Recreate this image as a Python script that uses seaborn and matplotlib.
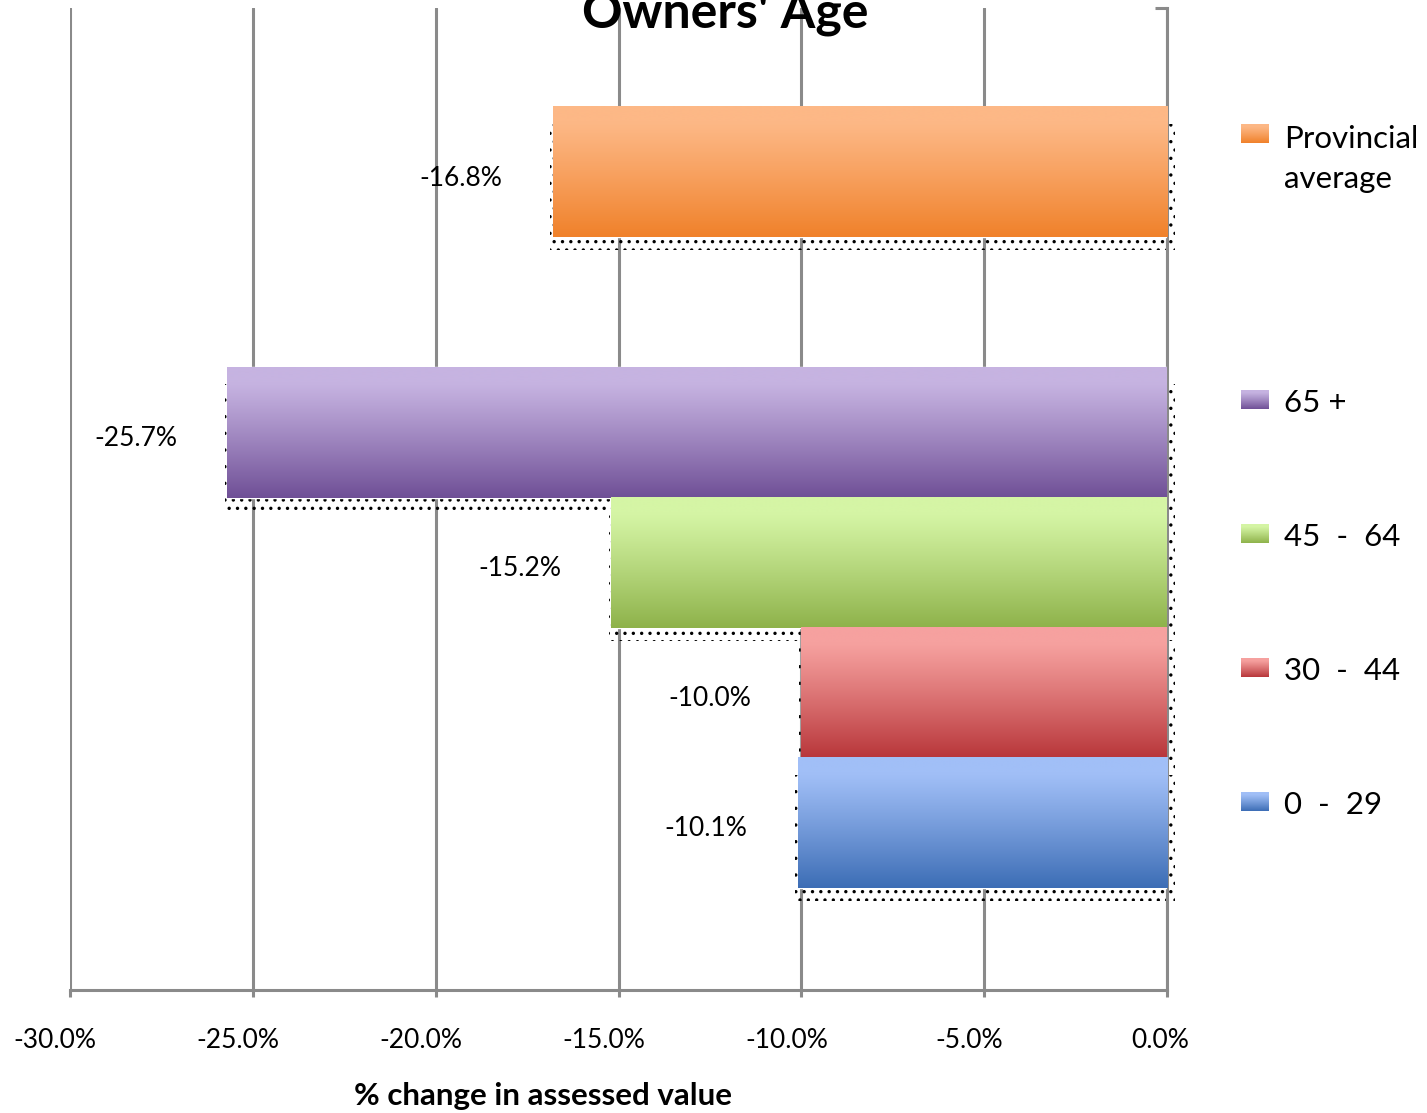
import numpy as np
import pandas as pd
import matplotlib
matplotlib.use("Agg")
import matplotlib.pyplot as plt
import seaborn as sns
from matplotlib.patches import Rectangle
from matplotlib.colors import to_rgb
from matplotlib.transforms import ScaledTranslation

# ---------------- data ----------------
groups = ["Provincial average", "65 +", "45 - 64", "30 - 44", "0 - 29"]
values = [-16.8, -25.7, -15.2, -10.0, -10.1]
legend_labels = ["Provincial\naverage", "65 +", "45  -  64", "30  -  44", "0  -  29"]
slot_order = ["Provincial average", " ", "65 +", "45 - 64", "30 - 44", "0 - 29"]
x_ticks = [-30, -25, -20, -15, -10, -5, 0]
x_tick_labels = ["-30.0%", "-25.0%", "-20.0%", "-15.0%", "-10.0%", "-5.0%", "0.0%"]
title = "Owners' Age"
x_label = "% change in assessed value"

top_colors = {"Provincial average": "#FDB886", "65 +": "#C6B3E1", "45 - 64": "#D5F5A5",
              "30 - 44": "#F6A19F", "0 - 29": "#A1BFF7"}
bottom_colors = {"Provincial average": "#F0812A", "65 +": "#6F4F96", "45 - 64": "#8EB24A",
                 "30 - 44": "#B8363A", "0 - 29": "#3C6DB5"}

GRAY = "#8a8a8a"

sns.set_theme(style="white")
plt.rcParams["font.family"] = ["Lato", "DejaVu Sans"]
plt.rcParams["hatch.linewidth"] = 1.2

W, H = 1427, 1113
fig = plt.figure(figsize=(W / 100, H / 100), dpi=100)
ax = fig.add_axes([70 / W, 1 - 990 / H, 1097 / W, 982 / H])

df = pd.DataFrame({"group": groups, "value": values})
sns.barplot(data=df, x="value", y="group", hue="group", order=slot_order,
            hue_order=groups, palette=top_colors, width=1.0, dodge=False,
            legend=False, saturation=1, ax=ax, errorbar=None)


def gradient(cat, n=256):
    t = np.linspace(0, 1, n)
    f = np.clip((t - 0.12) / 0.88, 0, 1) ** 1.1
    a = np.array(to_rgb(top_colors[cat]))
    b = np.array(to_rgb(bottom_colors[cat]))
    return a[None, :] + (b - a)[None, :] * f[:, None]


ylim = (6.283, -1.26)
for p in list(ax.patches):
    w = p.get_width()
    if w is None or np.isnan(w) or w == 0:
        continue
    x0 = p.get_x()
    xl, xr = min(x0, x0 + w), max(x0, x0 + w)
    y0, h = p.get_y(), p.get_height()
    yc = y0 + h / 2
    cat = slot_order[int(round(yc))]
    p.set_zorder(3)
    # dotted shadow
    sh = Rectangle((xl - 0.07, y0 + 0.13), (xr - xl) + 0.3, h - 0.13 + 0.1,
                   facecolor="none", edgecolor="black", linewidth=0, hatch="..",
                   zorder=2, clip_on=False)
    ax.add_patch(sh)
    g = gradient(cat)
    ax.imshow(g[:, None, :], extent=(xl, xr, y0 + h, y0), aspect="auto",
              interpolation="bilinear", zorder=3.1)
    ax.annotate(f"{w:.1f}%", xy=(xl, yc), xytext=(-50, -6), textcoords="offset pixels",
                ha="right", va="center", fontsize=19, color="black", zorder=5)

ax.set_xlim(-30, 0)
ax.set_ylim(*ylim)
ax.set_yticks([])
ax.set_ylabel("")
ax.set_xticks(x_ticks)
ax.set_xticklabels(x_tick_labels)
ax.tick_params(axis="x", labelsize=19, length=5, width=2.2, color=GRAY, pad=22,
               labelcolor="black", direction="out", bottom=True)
for lbl in ax.get_xticklabels():
    dx = -15 if lbl.get_text().startswith("-") else -7
    lbl.set_transform(lbl.get_transform() + ScaledTranslation(dx / 100, 0, fig.dpi_scale_trans))
ax.grid(axis="x", color=GRAY, linewidth=2.2)
ax.grid(axis="y", visible=False)
ax.set_axisbelow(True)
for s in ["left", "top"]:
    ax.spines[s].set_visible(False)
for s in ["bottom", "right"]:
    ax.spines[s].set_visible(True)
    ax.spines[s].set_color(GRAY)
    ax.spines[s].set_linewidth(2.2)
ax.plot([1 - 12 / 1097, 1], [1, 1], transform=ax.transAxes, color=GRAY, lw=2.2,
        clip_on=False, solid_capstyle="butt")

ax.set_xlabel(x_label, fontsize=22.5, fontweight="bold", color="black")
ax.xaxis.set_label_coords((543 - 70) / 1097, -0.094)

fig.text(725 / W, 1 - 28 / H, title, ha="center", va="baseline", fontsize=36,
         fontweight="bold", color="black")

# legend (drawn manually to match layout)
lax = fig.add_axes([0, 0, 1, 1], zorder=10)
lax.set_xlim(0, W)
lax.set_ylim(H, 0)
lax.axis("off")
marker_centers = [134, 400, 534, 668, 802]
for cat, lab, cy in zip(groups, legend_labels, marker_centers):
    g = gradient(cat)
    lax.imshow(g[:, None, :], extent=(1241, 1269, cy + 9.5, cy - 9.5), aspect="auto",
               interpolation="bilinear")
    nlines = lab.count("\n")
    lax.text(1284, cy + 12 + 42 * nlines, lab, ha="left", va="baseline", fontsize=22.5,
             color="black", linespacing=1.5)
lax.set_xlim(0, W)
lax.set_ylim(H, 0)

fig.savefig("out.png", dpi=100)
